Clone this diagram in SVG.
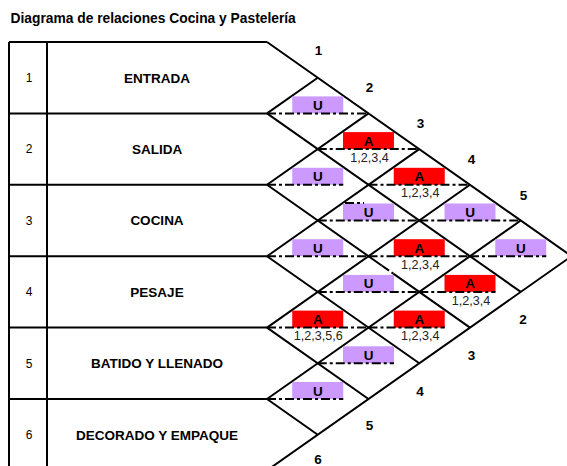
<svg xmlns="http://www.w3.org/2000/svg" width="567" height="466" viewBox="0 0 567 466">
<style>
.ln{stroke:#000;stroke-width:2;fill:none}
.dd{stroke:#000;stroke-width:2;fill:none;stroke-dasharray:9 3 3 3}
.u{fill:#CC99FF}
.a{fill:#FF0000}
.b{font-family:"Liberation Sans",Arial,sans-serif;font-weight:bold;font-size:13.5px;fill:#000}
.n{font-family:"Liberation Sans",Arial,sans-serif;font-size:12px;fill:#000}
.s{font-size:12.6px;fill:#222}
.c{text-anchor:middle}
</style>
<rect width="567" height="466" fill="#fff"/>
<text class="b" x="10.5" y="23" style="font-size:13.8px">Diagrama de relaciones Cocina y Pastelería</text>

<g id="table">
<path class="ln" d="M9 42H267M9 113.4H267M9 184.8H267M9 256.2H267M9 327.6H267M9 399H267M9 42V472M47 42V472"/>
</g>
<g id="row1"><text class="n c" x="29" y="82">1</text><text class="b c" x="157" y="82.5">ENTRADA</text></g>
<g id="row2"><text class="n c" x="29" y="153.4">2</text><text class="b c" x="157" y="153.9">SALIDA</text></g>
<g id="row3"><text class="n c" x="29" y="224.8">3</text><text class="b c" x="157" y="225.3">COCINA</text></g>
<g id="row4"><text class="n c" x="29" y="296.2">4</text><text class="b c" x="157" y="296.7">PESAJE</text></g>
<g id="row5"><text class="n c" x="29" y="367.6">5</text><text class="b c" x="157" y="368.1">BATIDO Y LLENADO</text></g>
<g id="row6"><text class="n c" x="29" y="439">6</text><text class="b c" x="157" y="439.5">DECORADO Y EMPAQUE</text></g>

<g id="connectors">
<path class="ln" d="M267 42L571.5 256.2L267 470.4"/>
<path class="ln" d="M267 113.4L520.75 291.9"/>
<path class="ln" d="M267 184.8L381.7 265.5M393.3 273.6L470 327.6"/>
<path class="dd" d="M381.7 265.5L393.3 273.6"/>
<path class="ln" d="M267 256.2L419.25 363.3"/>
<path class="ln" d="M267 327.6L368.5 399"/>
<path class="ln" d="M267 399L317.75 434.7"/>
<path class="ln" d="M267 113.4L317.75 77.7"/>
<path class="ln" d="M267 184.8L368.5 113.4"/>
<path class="ln" d="M267 256.2L419.25 149.1"/>
<path class="ln" d="M267 327.6L470 184.8"/>
<path class="ln" d="M267 399L520.75 220.5"/>
</g>

<g id="cell-1-2"><rect class="u" x="292.25" y="96.4" width="51" height="17"/><path class="dd" d="M267 113.4H368.5"/><text class="b c" x="317.75" y="109.9">U</text></g>
<g id="cell-1-3"><rect class="a" x="343" y="132.1" width="51" height="17"/><path class="dd" d="M317.75 149.1H419.25"/><text class="b c" x="368.5" y="145.6">A</text><text class="n s c" x="369.5" y="161.7">1,2,3,4</text></g>
<g id="cell-2-3"><rect class="u" x="292.25" y="167.8" width="51" height="17"/><path class="dd" d="M267 184.8H343.25"/><text class="b c" x="317.75" y="181.3">U</text></g>
<g id="cell-1-4"><rect class="a" x="393.75" y="167.8" width="51" height="17"/><path class="dd" d="M368.5 184.8H470"/><text class="b c" x="419.25" y="181.3">A</text><text class="n s c" x="420.25" y="197.4">1,2,3,4</text></g>
<g id="cell-2-4"><rect class="u" x="343" y="203.5" width="51" height="17"/><path class="dd" d="M317.75 220.5H419.25"/><path class="dd" d="M345 203H364"/><text class="b c" x="368.5" y="217">U</text></g>
<g id="cell-1-5"><rect class="u" x="444.5" y="203.5" width="51" height="17"/><path class="dd" d="M419.25 220.5H520.75"/><text class="b c" x="470" y="217">U</text></g>
<g id="cell-3-4"><rect class="u" x="292.25" y="239.2" width="51" height="17"/><path class="dd" d="M267 256.2H368.5"/><text class="b c" x="317.75" y="252.7">U</text></g>
<g id="cell-2-5"><rect class="a" x="393.75" y="239.2" width="51" height="17"/><path class="dd" d="M368.5 256.2H470"/><text class="b c" x="419.25" y="252.7">A</text><text class="n s c" x="420.25" y="268.8">1,2,3,4</text></g>
<g id="cell-1-6"><rect class="u" x="495.25" y="239.2" width="51" height="17"/><path class="dd" d="M470 256.2H546.25"/><text class="b c" x="520.75" y="252.7">U</text></g>
<g id="cell-3-5"><rect class="u" x="343" y="274.9" width="51" height="17"/><path class="dd" d="M317.75 291.9H419.25"/><text class="b c" x="368.5" y="288.4">U</text></g>
<g id="cell-2-6"><rect class="a" x="444.5" y="274.9" width="51" height="17"/><path class="dd" d="M419.25 291.9H495.5"/><text class="b c" x="470" y="288.4">A</text><text class="n s c" x="471" y="304.5">1,2,3,4</text></g>
<g id="cell-4-5"><rect class="a" x="292.25" y="310.6" width="51" height="17"/><path class="dd" d="M267 327.6H368.5"/><text class="b c" x="317.75" y="324.1">A</text><text class="n s c" x="318.25" y="340.2">1,2,3,5,6</text></g>
<g id="cell-3-6"><rect class="a" x="393.75" y="310.6" width="51" height="17"/><path class="dd" d="M368.5 327.6H444.75"/><text class="b c" x="419.25" y="324.1">A</text><text class="n s c" x="420.25" y="340.2">1,2,3,4</text></g>
<g id="cell-4-6"><rect class="u" x="343" y="346.3" width="51" height="17"/><path class="dd" d="M317.75 363.3H394"/><text class="b c" x="368.5" y="359.8">U</text></g>
<g id="cell-5-6"><rect class="u" x="292.25" y="382" width="51" height="17"/><path class="dd" d="M267 399H343.25"/><text class="b c" x="317.75" y="395.5">U</text></g>

<g id="edge-labels">
<text class="b c" x="318.5" y="55">1</text>
<text class="b c" x="369.5" y="92.3">2</text>
<text class="b c" x="420.5" y="128.3">3</text>
<text class="b c" x="471.5" y="164">4</text>
<text class="b c" x="523.5" y="200">5</text>
<text class="b c" x="523" y="324">2</text>
<text class="b c" x="471.5" y="360">3</text>
<text class="b c" x="420" y="395.7">4</text>
<text class="b c" x="369.5" y="430">5</text>
<text class="b c" x="318" y="464">6</text>
</g>
</svg>
